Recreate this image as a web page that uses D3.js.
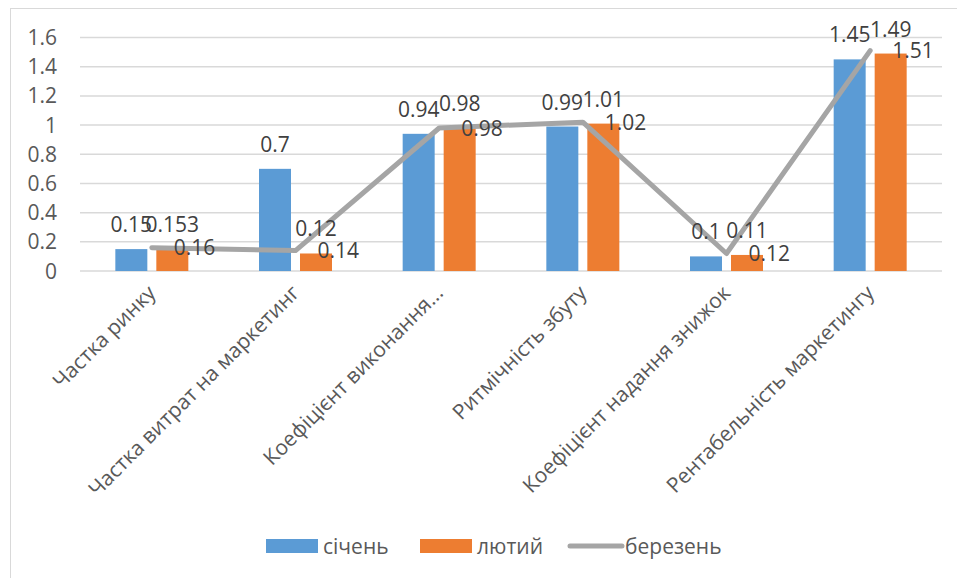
<!DOCTYPE html>
<html>
<head>
<meta charset="utf-8">
<script src="https://cdn.jsdelivr.net/npm/d3@7"></script>
<style>
  html, body { margin: 0; padding: 0; background: #fff; }
  svg { display: block; font-family: "Open Sans", "Liberation Sans", sans-serif; }
</style>
</head>
<body>
<svg id="chart" width="957" height="578"></svg>
<script>
// Categories and series
const categories = [
  "Частка ринку",
  "Частка витрат на маркетинг",
  "Коефіцієнт виконання...",
  "Ритмічність збуту",
  "Коефіцієнт надання знижок",
  "Рентабельність маркетингу"
];
const sichen  = [0.15, 0.7, 0.94, 0.99, 0.1, 1.45];
const lyutyi  = [0.153, 0.12, 0.98, 1.01, 0.11, 1.49];
const berezen = [0.16, 0.14, 0.98, 1.02, 0.12, 1.51];
const yTicks  = [0, 0.2, 0.4, 0.6, 0.8, 1, 1.2, 1.4, 1.6];
const seriesNames = ["січень", "лютий", "березень"];

const colors = { sichen: "#5b9bd5", lyutyi: "#ed7d31", berezen: "#a5a5a5" };
const textColor = "#595959";
const labelColor = "#404040";

const svg = d3.select("#chart");

// outer chart border
svg.append("rect")
  .attr("x", 10.5).attr("y", 8.5)
  .attr("width", 960).attr("height", 600)
  .attr("fill", "none").attr("stroke", "#d9d9d9").attr("stroke-width", 1);

const plot = { left: 80, right: 942, top: 37.5, bottom: 271 };

const x = d3.scaleBand().domain(categories).range([plot.left, plot.right]).paddingInner(0).paddingOuter(0);
const y = d3.scaleLinear().domain([0, 1.6]).range([plot.bottom, plot.top]);

const barW = 32, barGap = 9;
const groupW = barW * 2 + barGap;

// gridlines
svg.append("g").selectAll("line").data(yTicks).join("line")
  .attr("x1", plot.left).attr("x2", plot.right)
  .attr("y1", d => y(d)).attr("y2", d => y(d))
  .attr("stroke", "#d9d9d9").attr("stroke-width", 1.5);

// y axis labels
svg.append("g").selectAll("text").data(yTicks).join("text")
  .attr("x", 57).attr("y", d => y(d))
  .attr("dy", "0.36em")
  .attr("text-anchor", "end")
  .attr("font-size", 21).attr("fill", textColor)
  .text(d => d3.format("~g")(d));

const cx = c => x(c) + x.bandwidth() / 2;

// bars
const bars = [
  { vals: sichen, color: colors.sichen, off: -groupW / 2 },
  { vals: lyutyi, color: colors.lyutyi, off: -groupW / 2 + barW + barGap }
];
bars.forEach(s => {
  svg.append("g").selectAll("rect").data(categories).join("rect")
    .attr("x", (c) => cx(c) + s.off)
    .attr("y", (c, i) => y(s.vals[i]))
    .attr("width", barW)
    .attr("height", (c, i) => y(0) - y(s.vals[i]))
    .attr("fill", s.color);
});

// line series
const line = d3.line().x((d, i) => cx(categories[i])).y(d => y(d));
svg.append("path")
  .datum(berezen)
  .attr("d", line)
  .attr("fill", "none")
  .attr("stroke", colors.berezen)
  .attr("stroke-width", 5)
  .attr("stroke-linejoin", "round")
  .attr("stroke-linecap", "round");

// bar value labels
bars.forEach(s => {
  svg.append("g").selectAll("text").data(categories).join("text")
    .attr("x", c => cx(c) + s.off + barW / 2)
    .attr("y", (c, i) => y(s.vals[i]) - 17)
    .attr("text-anchor", "middle")
    .attr("font-size", 21).attr("fill", labelColor)
    .text((c, i) => s.vals[i]);
});

// line value labels (right of point)
svg.append("g").selectAll("text").data(categories).join("text")
  .attr("x", c => cx(c) + 22)
  .attr("y", (c, i) => y(berezen[i]))
  .attr("dy", "0.36em")
  .attr("text-anchor", "start")
  .attr("font-size", 21).attr("fill", labelColor)
  .text((c, i) => berezen[i]);

// category labels, rotated
svg.append("g").selectAll("text").data(categories).join("text")
  .attr("transform", c => `translate(${cx(c)},${plot.bottom + 18}) rotate(-45)`)
  .attr("text-anchor", "end")
  .attr("dy", "0.35em")
  .attr("font-size", 21).attr("fill", textColor)
  .text(c => c);

// legend
const legend = svg.append("g");
const legendItems = [
  { name: seriesNames[0], type: "rect", color: colors.sichen, x: 266 },
  { name: seriesNames[1], type: "rect", color: colors.lyutyi, x: 420 },
  { name: seriesNames[2], type: "line", color: colors.berezen, x: 568 }
];
legendItems.forEach(it => {
  if (it.type === "rect") {
    legend.append("rect").attr("x", it.x).attr("y", 539).attr("width", 52).attr("height", 14).attr("fill", it.color);
  } else {
    legend.append("line").attr("x1", it.x + 2).attr("x2", it.x + 54).attr("y1", 546).attr("y2", 546)
      .attr("stroke", it.color).attr("stroke-width", 5).attr("stroke-linecap", "round");
  }
  legend.append("text")
    .attr("x", it.x + 57).attr("y", 546).attr("dy", "0.36em")
    .attr("font-size", 21).attr("fill", textColor)
    .text(it.name);
});
</script>
</body>
</html>
